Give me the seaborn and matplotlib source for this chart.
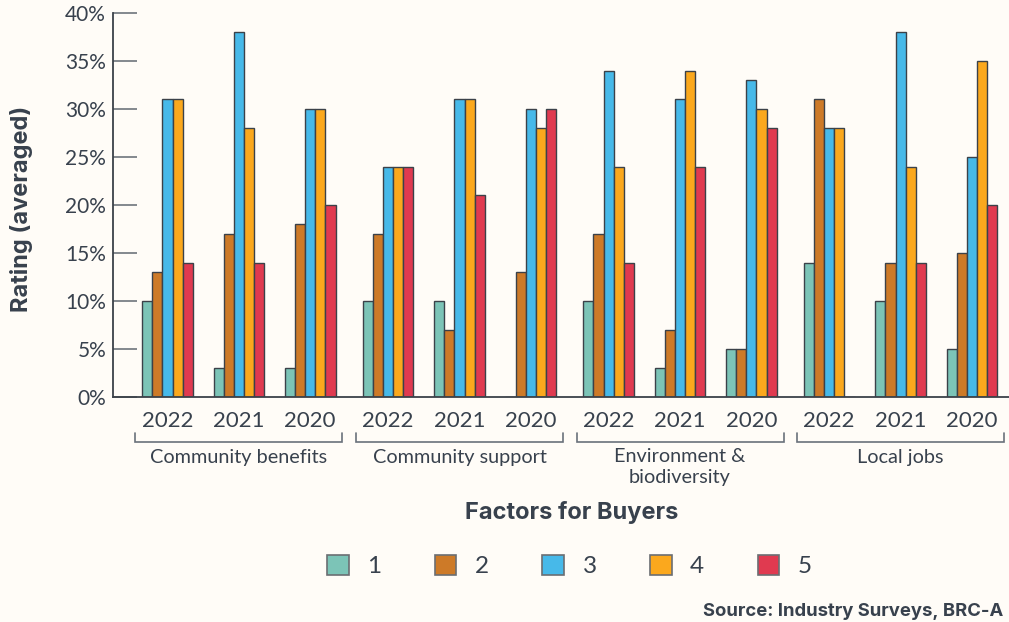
import numpy as np
import pandas as pd
import matplotlib
matplotlib.use("Agg")
import matplotlib.pyplot as plt
import matplotlib.transforms as mtransforms
import seaborn as sns

# ---------------- data ----------------
factors = ["Community benefits", "Community support", "Environment &\nbiodiversity", "Local jobs"]
years = ["2022", "2021", "2020"]
ratings = ["1", "2", "3", "4", "5"]

# values per (factor, year) group, in order: CB 2022/2021/2020, CS ..., E&B ..., LJ ...
r1 = [10, 3, 3, 10, 10, 0, 10, 3, 5, 14, 10, 5]
r2 = [13, 17, 18, 17, 7, 13, 17, 7, 5, 31, 14, 15]
r3 = [31, 38, 30, 24, 31, 30, 34, 31, 33, 28, 38, 25]
r4 = [31, 28, 30, 24, 31, 28, 24, 34, 30, 28, 24, 35]
r5 = [14, 14, 20, 24, 21, 30, 14, 24, 28, 0, 14, 20]

y_ticks = [0, 5, 10, 15, 20, 25, 30, 35, 40]
y_ticklabels = ["0%", "5%", "10%", "15%", "20%", "25%", "30%", "35%", "40%"]

colors = ["#7cc4b7", "#cd7a28", "#47b9e9", "#fba81d", "#e03a50"]

# ---------------- layout helpers ----------------
FACTOR_STEP = 3.09  # spacing between factor blocks (in group units)
series = [r1, r2, r3, r4, r5]
rows = []
group_pos = []
group_year = []
for fi, f in enumerate(factors):
    for yi, yr in enumerate(years):
        gi = fi * 3 + yi
        pos = fi * FACTOR_STEP + yi
        group_pos.append(pos)
        group_year.append(yr)
        for ri, r in enumerate(ratings):
            rows.append({"pos": pos, "rating": r, "value": series[ri][gi]})
df = pd.DataFrame(rows)

sns.set_theme(style="white")
TEXT = "#38414d"
plt.rcParams["font.family"] = ["Lato", "DejaVu Sans"]
plt.rcParams["text.color"] = TEXT
BOLD_FAMILY = ["Inter", "DejaVu Sans"]

BG = "#fffcf7"
fig = plt.figure(figsize=(10.09, 6.22), dpi=100, facecolor=BG)
W, H = 1009, 622
ax = fig.add_axes([113 / W, 1 - 397 / H, (W - 113) / W, (397 - 13) / H])
ax.set_facecolor(BG)

sns.barplot(data=df, x="pos", y="value", hue="rating", hue_order=ratings,
            palette=dict(zip(ratings, colors)), native_scale=True, saturation=1,
            width=0.71, gap=0, edgecolor="#3b4149", linewidth=1.0,
            errorbar=None, ax=ax)

ax.set_xlim(-0.763, group_pos[-1] + 0.518)
ax.set_ylim(0, 40)

# y axis
ax.set_yticks(y_ticks)
ax.set_yticklabels(y_ticklabels)
ax.tick_params(axis="y", direction="in", length=17, width=1.3, color="#7a7f86",
               pad=5, labelsize=15, labelcolor=TEXT, left=True)
# x axis: year labels
ax.set_xticks(group_pos)
ax.set_xticklabels(group_year)
ax.tick_params(axis="x", length=0, pad=10, labelsize=16, labelcolor=TEXT, bottom=False)

for s in ["top", "right"]:
    ax.spines[s].set_visible(False)
for s in ["left", "bottom"]:
    ax.spines[s].set_color("#3b4149")
    ax.spines[s].set_linewidth(1.3)

ax.set_xlabel("")
ax.set_ylabel("")

# brackets and factor labels
trans = mtransforms.blended_transform_factory(ax.transData, ax.transAxes)
y_line = (397 - 442.3) / 384
y_top = (397 - 432.7) / 384
for fi, f in enumerate(factors):
    x0 = group_pos[fi * 3] - 0.45
    x1 = group_pos[fi * 3 + 2] + 0.45
    ax.plot([x0, x0, x1, x1], [y_top, y_line, y_line, y_top], transform=trans,
            color="#6a717b", lw=1.2, clip_on=False, solid_joinstyle="miter")
    ax.text(group_pos[fi * 3 + 1], (397 - 448.5) / 384, f, transform=trans,
            ha="center", va="top", fontsize=14.3, color=TEXT, linespacing=1.22)

# axis titles
fig.text(571.5 / W, 1 - 512 / H, "Factors for Buyers", ha="center", va="center",
         fontsize=17, fontweight="bold", color=TEXT, family=BOLD_FAMILY)
fig.text(22 / W, 1 - 209 / H, "Rating (averaged)", ha="center", va="center",
         rotation=90, fontsize=17, fontweight="bold", color=TEXT, family=BOLD_FAMILY)

# legend
handles, labels = ax.get_legend_handles_labels()
if ax.get_legend() is not None:
    ax.get_legend().remove()
for h in handles:
    h.set_edgecolor("#6b6e72")
    h.set_linewidth(1.2)
fig.legend(handles, labels, loc="center", bbox_to_anchor=(569.5 / W, 1 - 566 / H),
           bbox_transform=fig.transFigure, ncol=5, frameon=False, fontsize=17.5,
           handlelength=0.89, handleheight=0.89, handletextpad=0.76,
           columnspacing=2.2, labelcolor=TEXT)

# source
fig.text(703 / W, 1 - 611 / H, "Source: Industry Surveys, BRC-A", ha="left", va="center",
         fontsize=13.3, fontweight="bold", color=TEXT, family=BOLD_FAMILY)

fig.savefig("out.png", dpi=100, facecolor=BG)
